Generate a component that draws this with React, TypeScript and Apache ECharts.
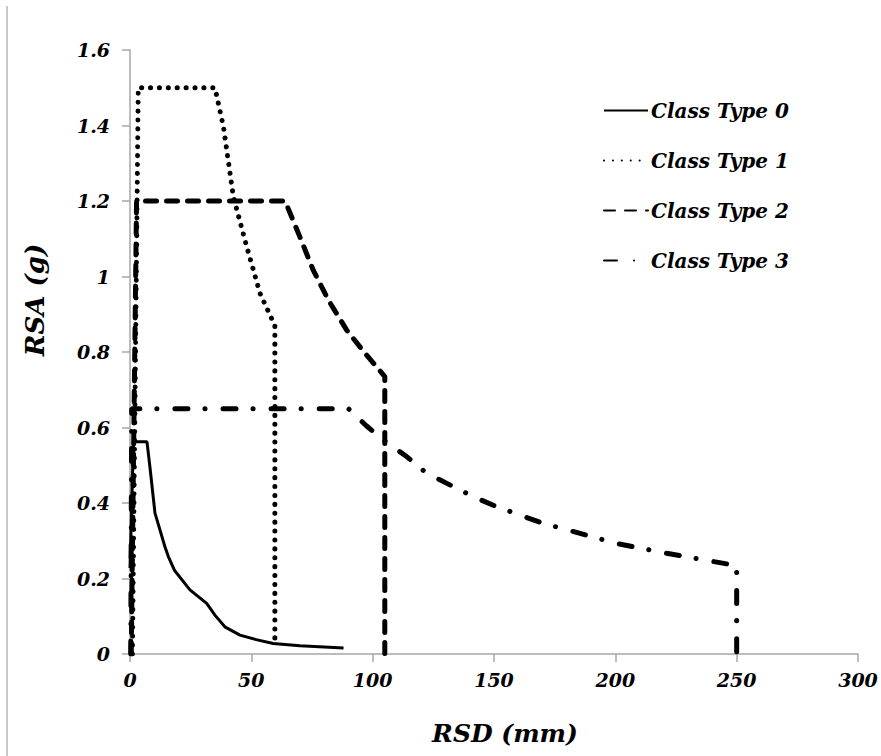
import React, { useEffect, useRef } from "react";
import * as echarts from "echarts";

const seriesNames = ["Class Type 0", "Class Type 1", "Class Type 2", "Class Type 3"];

const type0X = [0, 1.4, 7, 8.2, 10.3, 14.4, 15.8, 18.3, 24.7, 31.6, 35, 39.1, 45.3, 52, 59, 70, 88];
const type0Y = [0.228, 0.562, 0.562, 0.496, 0.373, 0.284, 0.258, 0.222, 0.17, 0.134, 0.103, 0.072, 0.05, 0.038, 0.028, 0.022, 0.016];

const type1X = [1, 3.4, 35, 38.5, 42.6, 48.1, 53.6, 59.7, 59.7];
const type1Y = [0, 1.5, 1.5, 1.397, 1.211, 1.079, 0.955, 0.87, 0.025];

const type2X = [0.5, 2.7, 63.9, 70, 75.5, 81.7, 89.3, 96.8, 105, 105];
const type2Y = [0, 1.2, 1.2, 1.105, 1.017, 0.938, 0.858, 0.797, 0.735, 0];

const type3X = [0.3, 0.7, 90, 97.5, 104.4, 114, 122.2, 131.2, 141.4, 150.4, 160.7, 170.3, 180.6, 190.2, 200.5, 210.8, 221.1, 231.4, 243, 250, 250];
const type3Y = [0, 0.65, 0.65, 0.604, 0.567, 0.523, 0.479, 0.45, 0.417, 0.392, 0.368, 0.346, 0.328, 0.311, 0.293, 0.28, 0.267, 0.255, 0.242, 0.234, 0];

const xTicks = { min: 0, max: 300, interval: 50 };
const yTicks = { min: 0, max: 1.6, interval: 0.2 };

const FONT = "DejaVu Serif";

function zip(xs: number[], ys: number[]) {
  return xs.map((x, i) => [x, ys[i]]);
}

export default function App() {
  const ref = useRef<HTMLDivElement>(null);
  useEffect(() => {
    document.body.style.margin = "0";
    if (!ref.current) return;
    const chart = echarts.init(ref.current, null, { renderer: "svg" });
    const lineStyles: any[] = [
      { color: "#000", width: 3, type: "solid" },
      { color: "#000", width: 5, type: [0.1, 8.8], cap: "round" },
      { color: "#000", width: 5, type: [11, 10], cap: "round" },
      { color: "#000", width: 5, type: [13, 17, 0.1, 18], cap: "round" },
    ];
    const datas = [zip(type0X, type0Y), zip(type1X, type1Y), zip(type2X, type2Y), zip(type3X, type3Y)];
    const txt = { fontFamily: FONT, fontWeight: "bold", fontStyle: "italic", color: "#000" };
    chart.setOption({
      animation: false,
      backgroundColor: "#fff",
      grid: { left: 130, right: 23, top: 50, bottom: 102, containLabel: false },
      legend: {
        orient: "vertical",
        left: 598,
        top: 93,
        itemWidth: 44,
        itemHeight: 20,
        itemGap: 25,
        data: seriesNames,
        itemStyle: { color: "rgba(0,0,0,0)", opacity: 0, borderWidth: 0 },
        textStyle: { ...txt, fontSize: 20, lineHeight: 25, padding: [0, 0, 0, -2] },
      },
      xAxis: {
        type: "value",
        min: xTicks.min,
        max: xTicks.max,
        interval: xTicks.interval,
        name: "RSD (mm)",
        nameLocation: "middle",
        nameGap: 67,
        nameTextStyle: { ...txt, fontSize: 25, padding: [0, 0, 0, 22] },
        splitLine: { show: false },
        axisLine: { show: true, lineStyle: { color: "#a6a6a6", width: 1.5 } },
        axisTick: { show: true, inside: false, length: 8, lineStyle: { color: "#a6a6a6", width: 1.5 } },
        axisLabel: { ...txt, margin: 16, fontSize: 19 },
      },
      yAxis: {
        type: "value",
        min: yTicks.min,
        max: yTicks.max,
        interval: yTicks.interval,
        name: "RSA (g)",
        nameLocation: "middle",
        nameGap: 82,
        nameTextStyle: { ...txt, fontSize: 26, padding: [0, 0, 0, 104] },
        splitLine: { show: false },
        axisLine: { show: true, lineStyle: { color: "#a6a6a6", width: 1.5 } },
        axisTick: { show: true, inside: false, length: 8, lineStyle: { color: "#a6a6a6", width: 1.5 } },
        axisLabel: { ...txt, margin: 20, fontSize: 19 },
      },
      graphic: [
        {
          type: "rect",
          left: 6,
          top: 6,
          shape: { width: 2, height: 750 },
          style: { fill: "#c8c8c8" },
          silent: true,
        },
      ],
      series: seriesNames.map((name, i) => ({
        name,
        type: "line",
        data: datas[i],
        showSymbol: false,
        symbol: "none",
        smooth: false,
        lineStyle: lineStyles[i],
        itemStyle: { color: "#000" },
        z: 10 - i,
      })),
    });
    return () => chart.dispose();
  }, []);
  return <div ref={ref} style={{ width: 881, height: 756 }} />;
}
